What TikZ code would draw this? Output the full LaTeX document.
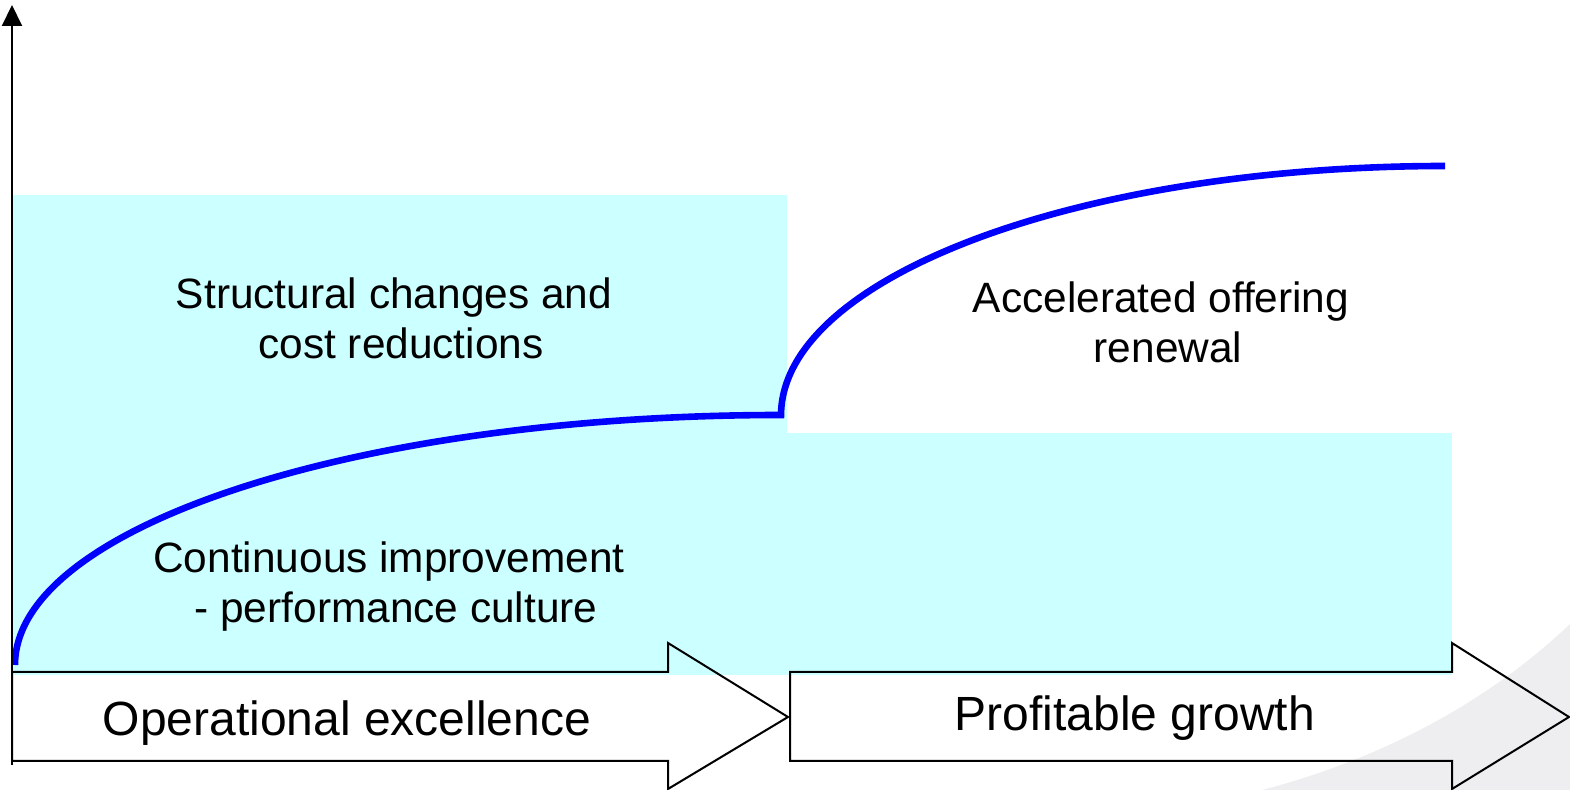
\documentclass[tikz,border=0pt]{standalone}
\usepackage{fontspec}
\setmainfont{Liberation Sans}
\usetikzlibrary{arrows.meta}
\definecolor{paleCyan}{RGB}{204,255,255}
\definecolor{swooshGray}{RGB}{238,238,241}
\definecolor{curveBlue}{RGB}{0,0,255}
\tikzset{
  zone/.style={fill=paleCyan, draw=none},
  phasearrow/.style={draw=black, line width=1pt, line join=miter},
  growth/.style={draw=curveBlue, line width=3.3pt},
  blocktext/.style={align=center, font=\fontsize{21.2}{25}\selectfont, inner sep=0pt},
  phasetext/.style={font=\fontsize{24}{28}\selectfont, inner sep=0pt},
}
\begin{document}
\begin{tikzpicture}[x=0.5pt,y=-0.5pt]
\useasboundingbox (0,0) rectangle (1570,790);
% background swoosh
\fill[swooshGray] (1262,790) .. controls (1385,758) and (1490,700) .. (1570,624) -- (1570,790) -- cycle;
% cyan zones
\fill[zone] (12,195) rectangle (787,675);
\fill[zone] (787,433) rectangle (1452,675);
% growth curve
\coordinate (c0) at (15,665);
\coordinate (c1) at (781,415);
\coordinate (c2) at (1445,166);
\draw[growth] (c0) .. controls (15,527) and (357,415) .. (c1)
  .. controls (782,277) and (1079,166) .. (c2);
% phase arrows
\draw[phasearrow] (12,672) -- (668,672) -- (668,643) -- (788,717) -- (668,789) -- (668,761) -- (12,761) -- cycle;
\draw[phasearrow] (790,672) -- (1452,672) -- (1452,643) -- (1569,717) -- (1452,789) -- (1452,761) -- (790,761) -- cycle;
% axis
\coordinate (axbot) at (12,765);
\coordinate (axtop) at (12,5);
\draw[line width=1pt, -{Triangle[width=10pt,length=10.5pt]}] (axbot) -- (axtop);
% texts
\node[blocktext] (struct) at (394,318) {Structural changes and\\\hspace*{7pt}cost reductions};
\node[blocktext] (cont) at (389,587) {Continuous improvement\\\hspace*{7pt}- performance culture};
\node[blocktext] (accel) at (1161,322) {Accelerated offering\\\hspace*{7pt}renewal};
\node[phasetext] (opex) at (347,723) {Operational excellence};
\node[phasetext] (growthlbl) at (1135,718) {Profitable growth};
\end{tikzpicture}
\end{document}
